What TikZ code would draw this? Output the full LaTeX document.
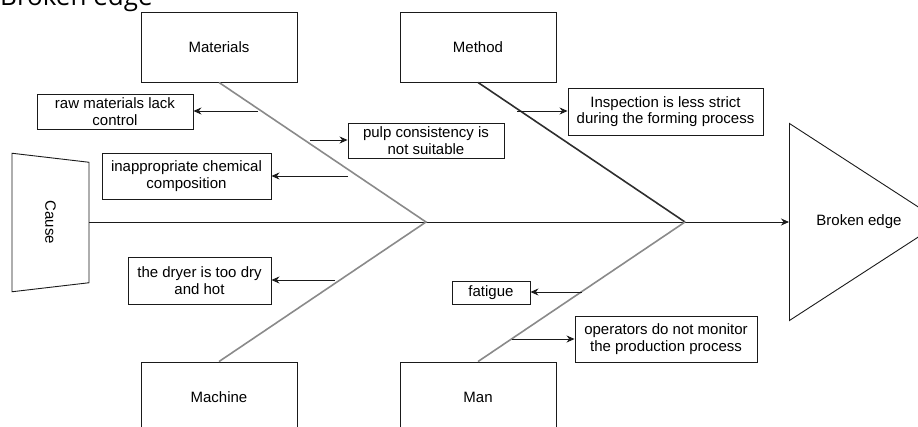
\documentclass[tikz,border=0pt]{standalone}
\usepackage{fontspec}
\setmainfont{Liberation Sans}
\newfontfamily\titlefont{Open Sans}
\usepackage{tikz}
\usetikzlibrary{arrows.meta,positioning,shapes.geometric,calc}
\definecolor{bonegray}{HTML}{8A8A8A}
\definecolor{bonedark}{HTML}{2E2E2E}
\definecolor{ink}{HTML}{1A1A1A}
\tikzset{
  catbox/.style={
    rectangle, draw=ink, line width=0.9pt,
    minimum width=156pt, minimum height=70pt,
    font=\fontsize{15}{16.5}\selectfont, align=center,
    inner sep=0pt
  },
  causebox/.style={
    rectangle, draw=ink, line width=0.9pt,
    minimum width=#1, font=\fontsize{15}{16.5}\selectfont,
    align=center, inner sep=2pt
  },
  causebox/.default=156pt,
  bone/.style={line width=1.6pt, color=#1},
  bone/.default=bonegray,
  leader/.style={
    -{Stealth[length=8pt,width=7pt]}, line width=0.9pt, color=ink
  },
}

\begin{document}
\begin{tikzpicture}[x=1pt, y=-1pt]
  \useasboundingbox (0,0) rectangle (918,426);
  \clip (0,0) rectangle (918,426);
  \node[anchor=base west, inner sep=0pt, font=\titlefont\fontsize{26}{30}\selectfont] (title) at (0,5) {Broken edge};
  % head and tail
  \node[trapezium, draw=ink, line width=0.9pt, trapezium stretches=true,
        trapezium left angle=73, trapezium right angle=73,
        minimum width=139pt, minimum height=77pt, inner sep=0pt, rotate=-90,
        font=\fontsize{15}{16.5}\selectfont] (cause) at (50.5,222.5) {Cause};
  \node[isosceles triangle, draw=ink, line width=0.9pt, isosceles triangle stretches,
        minimum width=197pt, minimum height=152pt, inner sep=0pt, anchor=lower side,
        font=\fontsize{15}{16.5}\selectfont] (effect) at (789,222) {};
  \node[font=\fontsize{15}{16.5}\selectfont] (effectlabel) at (859,222) {Broken edge};
  % categories
  \node[catbox] (materials) at (219,47) {Materials};
  \node[catbox] (method) at (478,47) {Method};
  \node[catbox] (machine) at (219,397) {Machine};
  \node[catbox] (man) at (478,397) {Man};
  \coordinate (j1) at (426,222);
  \coordinate (j2) at (685,222);
  \draw[leader] (cause.north |- j1) -- (effect.lower side);
  \draw[bone] (materials.south) -- (j1) -- (machine.north);
  \draw[bone=bonedark] (method.south) -- (j2);
  \draw[bone] (man.north) -- (j2);
  % causes
  \node[causebox, minimum height=35pt] (raw) at (115,111.5) {raw materials lack\\control};
  \node[causebox, minimum height=35pt] (pulp) at (426,140.5) {pulp consistency is\\not suitable};
  \node[causebox=169pt, minimum height=46pt] (chem) at (186.5,176) {inappropriate chemical\\composition};
  \node[causebox=143pt, minimum height=47pt] (dryer) at (199.5,280.5) {the dryer is too dry\\and hot};
  \node[causebox=195pt, minimum height=47pt] (insp) at (665.5,111.5) {Inspection is less strict\\during the forming process};
  \node[causebox=78pt, minimum height=23pt] (fatigue) at (491,292.5) {fatigue};
  \node[causebox=182pt, minimum height=46pt] (oper) at (666,339) {operators do not monitor\\the production process};
  \coordinate (c1) at (258,111);
  \coordinate (c2) at (310,140);
  \coordinate (c3) at (348,176);
  \coordinate (c4) at (335,280);
  \coordinate (c5) at (517,111);
  \coordinate (c6) at (582,292);
  \coordinate (c7) at (512,339);
  \draw[leader] (c1) -- (c1 -| raw.east);
  \draw[leader] (c2) -- (c2 -| pulp.west);
  \draw[leader] (c3) -- (c3 -| chem.east);
  \draw[leader] (c4) -- (c4 -| dryer.east);
  \draw[leader] (c5) -- (c5 -| insp.west);
  \draw[leader] (c6) -- (c6 -| fatigue.east);
  \draw[leader] (c7) -- (c7 -| oper.west);
\end{tikzpicture}
\end{document}
